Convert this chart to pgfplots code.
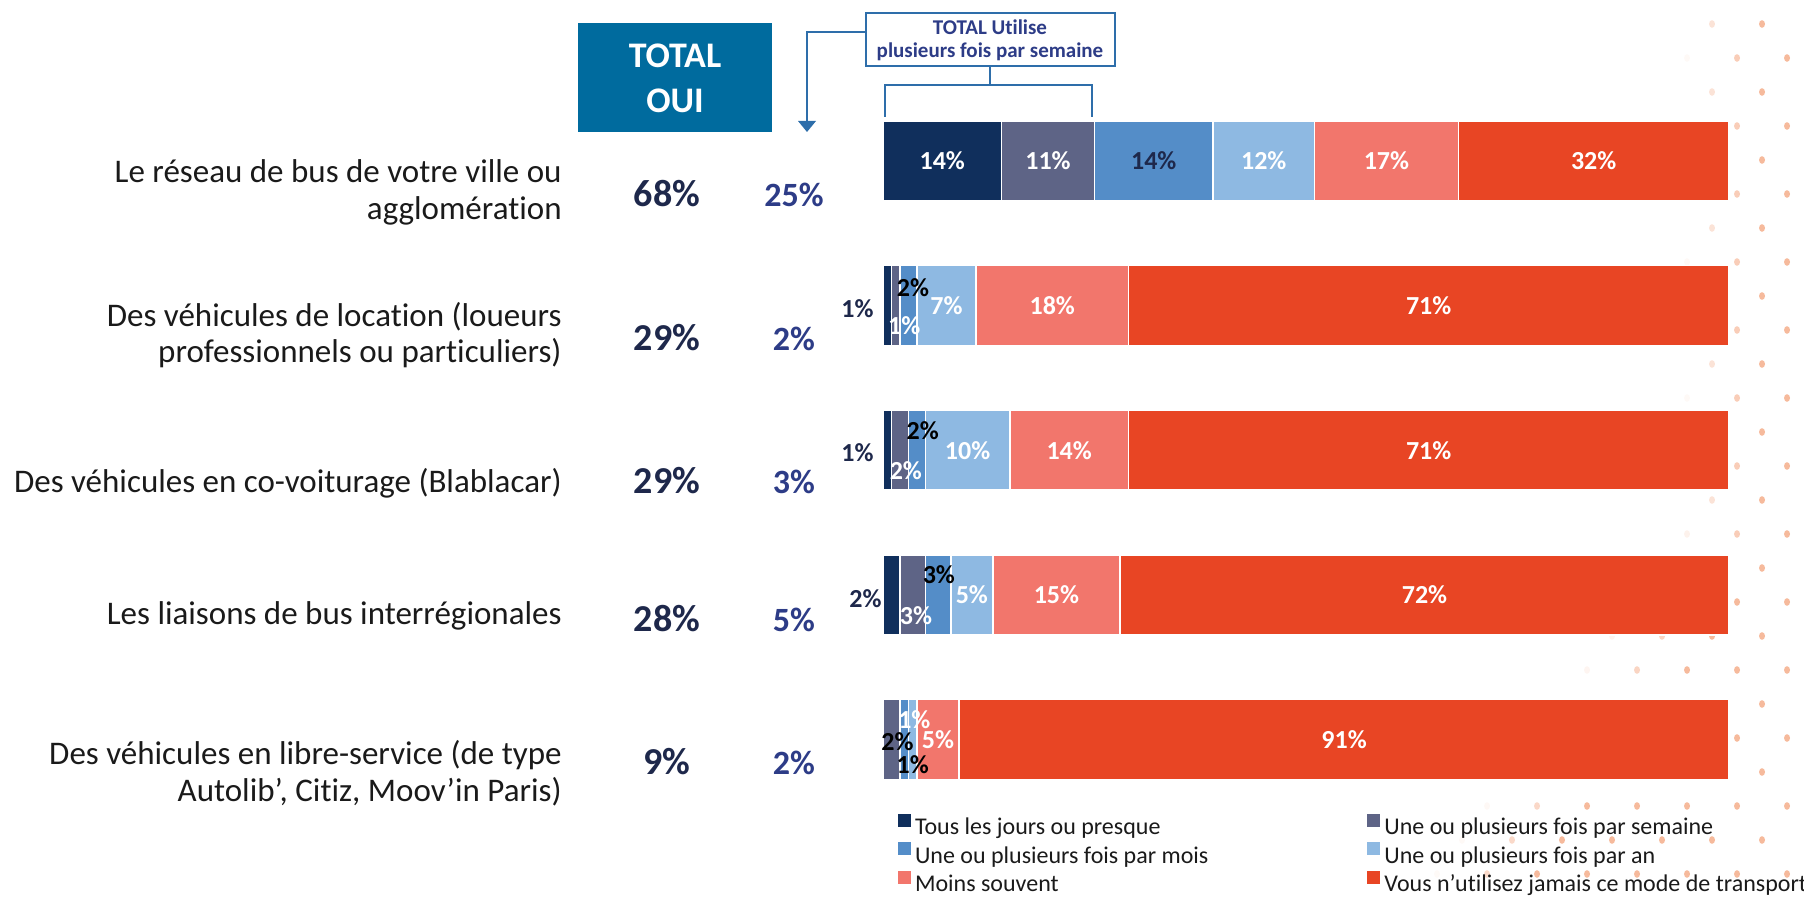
\documentclass[border=0pt]{standalone}
\usepackage{fontspec}
\setmainfont{Carlito}[Ligatures=NoCommon]
\usepackage{pgfplots}
\pgfplotsset{compat=1.18}
\definecolor{c1}{RGB}{16,47,92}
\definecolor{c2}{RGB}{94,100,134}
\definecolor{c3}{RGB}{84,141,200}
\definecolor{c4}{RGB}{142,185,226}
\definecolor{c5}{RGB}{242,118,108}
\definecolor{c6}{RGB}{232,69,36}
\definecolor{txt}{RGB}{26,26,26}
\definecolor{navytxt}{RGB}{30,40,75}
\definecolor{bluetxt}{RGB}{45,60,135}
\definecolor{boxblue}{RGB}{0,107,158}
\definecolor{linec}{RGB}{46,110,170}
\definecolor{dotc}{RGB}{245,178,145}
\begin{document}
\begin{tikzpicture}[x=0.5bp,y=0.5bp,
  lab/.style={font=\bfseries\fontsize{13bp}{15bp}\selectfont, text=white, inner sep=0pt},
  cat/.style={font=\fontsize{16.5bp}{18.5bp}\selectfont, text=txt, anchor=base east, inner sep=0pt},
  tot/.style={font=\bfseries\fontsize{19bp}{21bp}\selectfont, text=navytxt, anchor=base, inner sep=0pt},
  sem/.style={font=\bfseries\fontsize{17bp}{19bp}\selectfont, text=bluetxt, anchor=base, inner sep=0pt}]
\path[use as bounding box] (0,0) rectangle (1804,897);
% decorative dots
\foreach \j in {0,...,25}{
  \foreach \k in {23,...,35}{
    \pgfmathsetmacro{\xx}{12+50*\k+25*mod(\j,2)}
    \pgfmathsetmacro{\yy}{24+34*\j}
    \pgfmathsetmacro{\aa}{0.9*min(1,max(0,max((\xx-1680)/80,(\xx+0.7*(\yy-600)-1620)/110)))}
    \ifdim\aa pt>0.04pt
      \fill[dotc, opacity=\aa] ({\xx},{897-\yy}) ellipse [x radius=3, y radius=3.8];
    \fi
  }
}
\begin{axis}[
  at={(441.5bp,42.65bp)}, anchor=south west,
  scale only axis, width=423bp, height=361.5bp,
  xbar stacked, bar width=40bp,
  xmin=0, xmax=100, ymin=-0.5, ymax=4.5, y dir=reverse,
  hide axis, clip=false,
  legend columns=2, legend cell align=left,
  legend style={at={(0.0177,-0.0031)}, anchor=north west, draw=none, fill=none,
    inner sep=0pt, outer sep=0pt, column sep=2bp, row sep=0.75bp,
    font=\fontsize{12bp}{14bp}\selectfont, text=txt,
    nodes={inner sep=0pt, text height=9bp, text depth=3bp},
    /tikz/column 2/.style={column sep=79.5bp}},
  legend image code/.code={\path[#1,draw=none] (0bp,1bp) rectangle (6.5bp,7.5bp);},
  every axis plot/.append style={draw=white, line width=0.8bp},
]
\addplot[fill=c1] coordinates {(14,0) (1,1) (1,2) (2,3) (0,4)};
\addplot[fill=c2] coordinates {(11,0) (1,1) (2,2) (3,3) (2,4)};
\addplot[fill=c3] coordinates {(14,0) (2,1) (2,2) (3,3) (1,4)};
\addplot[fill=c4] coordinates {(12,0) (7,1) (10,2) (5,3) (1,4)};
\addplot[fill=c5] coordinates {(17,0) (18,1) (14,2) (15,3) (5,4)};
\addplot[fill=c6] coordinates {(32,0) (71,1) (71,2) (72,3) (91,4)};
\legend{Tous les jours ou presque, Une ou plusieurs fois par semaine, Une ou plusieurs fois par mois, Une ou plusieurs fois par an, Moins souvent, Vous n’utilisez jamais ce mode de transport}
% label anchor points
\coordinate (a1) at (axis cs:7,0);
\coordinate (a2) at (axis cs:19.5,0);
\coordinate (a3) at (axis cs:32,0);
\coordinate (a4) at (axis cs:45,0);
\coordinate (a5) at (axis cs:59.5,0);
\coordinate (a6) at (axis cs:84,0);
\coordinate (b0) at (axis cs:0,1);
\coordinate (b1) at (axis cs:3.55,1);
\coordinate (b2) at (axis cs:2.5,1);
\coordinate (b4) at (axis cs:7.5,1);
\coordinate (b5) at (axis cs:20,1);
\coordinate (b6) at (axis cs:64.5,1);
\coordinate (c0) at (axis cs:0,2);
\coordinate (cc1) at (axis cs:4.7,2);
\coordinate (cc2) at (axis cs:2.7,2);
\coordinate (cc4) at (axis cs:10,2);
\coordinate (cc5) at (axis cs:22,2);
\coordinate (cc6) at (axis cs:64.5,2);
\coordinate (d0) at (axis cs:0,3);
\coordinate (d1) at (axis cs:6.6,3);
\coordinate (d2) at (axis cs:3.9,3);
\coordinate (d4) at (axis cs:10.5,3);
\coordinate (d5) at (axis cs:20.5,3);
\coordinate (d6) at (axis cs:64,3);
\coordinate (e1) at (axis cs:1.7,4);
\coordinate (e2) at (axis cs:3.7,4);
\coordinate (e3) at (axis cs:3.5,4);
\coordinate (e5) at (axis cs:6.5,4);
\coordinate (e6) at (axis cs:54.5,4);
\end{axis}
% bar labels
\node[lab] at (a1) {14\%};
\node[lab] at (a2) {11\%};
\node[lab, text=navytxt] at (a3) {14\%};
\node[lab] at (a4) {12\%};
\node[lab] at (a5) {17\%};
\node[lab] at (a6) {32\%};
\node[lab, text=navytxt, anchor=east, xshift=-4.5bp, yshift=-1.5bp] at (b0) {1\%};
\node[lab, text=black, yshift=9bp] at (b1) {2\%};
\node[lab, yshift=-10bp] at (b2) {1\%};
\node[lab] at (b4) {7\%};
\node[lab] at (b5) {18\%};
\node[lab] at (b6) {71\%};
\node[lab, text=navytxt, anchor=east, xshift=-4.5bp, yshift=-1bp] at (c0) {1\%};
\node[lab, text=black, yshift=10bp] at (cc1) {2\%};
\node[lab, yshift=-10bp] at (cc2) {2\%};
\node[lab] at (cc4) {10\%};
\node[lab] at (cc5) {14\%};
\node[lab] at (cc6) {71\%};
\node[lab, text=navytxt, anchor=east, xshift=-0.5bp, yshift=-2bp] at (d0) {2\%};
\node[lab, text=black, yshift=10bp] at (d1) {3\%};
\node[lab, yshift=-10.5bp] at (d2) {3\%};
\node[lab] at (d4) {5\%};
\node[lab] at (d5) {15\%};
\node[lab] at (d6) {72\%};
\node[lab, text=black, yshift=-1bp] at (e1) {2\%};
\node[lab, yshift=10bp] at (e2) {1\%};
\node[lab, text=black, yshift=-12.5bp] at (e3) {1\%};
\node[lab] at (e5) {5\%};
\node[lab] at (e6) {91\%};
% category labels
\node[cat] at (562,714) {Le réseau de bus de votre ville ou};
\node[cat] at (562,677) {agglomération};
\node[cat] at (562,570) {Des véhicules de location (loueurs};
\node[cat] at (562,534) {professionnels ou particuliers)};
\node[cat] at (562,404) {Des véhicules en co-voiturage (Blablacar)};
\node[cat] at (562,272) {Les liaisons de bus interrégionales};
\node[cat] at (562,132) {Des véhicules en libre-service (de type};
\node[cat] at (562,95) {Autolib’, Citiz, Moov’in Paris)};
% totals
\node[tot] at (667,690) {68\%};
\node[tot] at (667,546.5) {29\%};
\node[tot] at (667,403.5) {29\%};
\node[tot] at (667,265.5) {28\%};
\node[tot] at (667,122.5) {9\%};
\node[sem] at (794,690) {25\%};
\node[sem] at (794,546.5) {2\%};
\node[sem] at (794,403.5) {3\%};
\node[sem] at (794,265.5) {5\%};
\node[sem] at (794,122.5) {2\%};
% TOTAL OUI box
\fill[boxblue] (578,874) rectangle (772,765);
\node[font=\bfseries\fontsize{18bp}{20bp}\selectfont, text=white, anchor=base, inner sep=0pt] at (675,829) {TOTAL};
\node[font=\bfseries\fontsize{18bp}{20bp}\selectfont, text=white, anchor=base, inner sep=0pt] at (675,784) {OUI};
% callout
\draw[linec, line width=1.3bp] (866,865) -- (807,865) -- (807,775);
\fill[linec] (798,776) -- (816,776) -- (807,765) -- cycle;
\draw[linec, line width=1.3bp] (990,831) -- (990,812);
\draw[linec, line width=1.3bp] (885,780) -- (885,812) -- (1092,812) -- (1092,780);
\draw[linec, line width=1.2bp, fill=white] (866,884) rectangle (1115,831);
\node[font=\bfseries\fontsize{10.5bp}{12bp}\selectfont, text=bluetxt, anchor=base, inner sep=0pt] at (990,862) {TOTAL Utilise};
\node[font=\bfseries\fontsize{10.5bp}{12bp}\selectfont, text=bluetxt, anchor=base, inner sep=0pt] at (990,839) {plusieurs fois par semaine};
\end{tikzpicture}
\end{document}
